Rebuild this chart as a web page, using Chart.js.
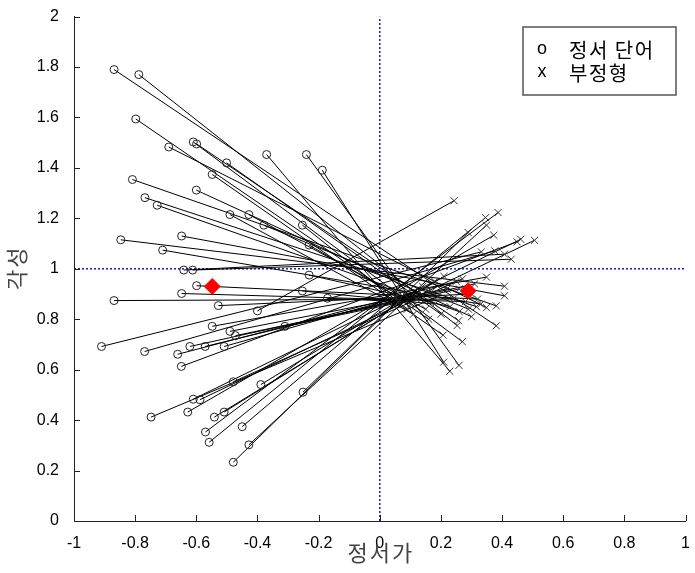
<!DOCTYPE html>
<html>
<head>
<meta charset="utf-8">
<script src="https://cdn.jsdelivr.net/npm/chart.js@4.4.0/dist/chart.umd.min.js"></script>
<style>
  html, body { margin: 0; padding: 0; background: #fff; }
</style>
</head>
<body>
<canvas id="chart" width="695" height="573"></canvas>
<script>
// 정서 단어 (circles) -> 부정형 (crosses), pair i joins wordX/wordY[i] to negX/negY[i]
const wordX = [-0.869,-0.788,-0.798,-0.610,-0.599,-0.690,-0.370,-0.240,-0.501,-0.188,
               -0.548,-0.809,-0.600,-0.768,-0.728,-0.490,-0.428,-0.379,-0.253,-0.648,
               -0.847,-0.231,-0.710,-0.641,-0.612,-0.231,-0.599,-0.253,-0.648,-0.171,
               -0.869,-0.528,-0.400,-0.548,-0.310,-0.490,-0.472,-0.910,-0.621,-0.571,
               -0.509,-0.769,-0.661,-0.649,-0.479,-0.389,-0.610,-0.588,-0.251,-0.628,
               -0.509,-0.748,-0.541,-0.450,-0.570,-0.558,-0.428,-0.479];
const wordY = [1.790,1.770,1.594,1.503,1.495,1.483,1.453,1.453,1.420,1.391,
               1.374,1.354,1.312,1.282,1.252,1.215,1.215,1.173,1.173,1.130,
               1.115,1.094,1.074,0.995,0.995,0.975,0.933,0.912,0.902,0.883,
               0.874,0.854,0.833,0.772,0.772,0.752,0.735,0.692,0.692,0.692,
               0.692,0.672,0.661,0.613,0.552,0.541,0.483,0.481,0.511,0.432,
               0.432,0.412,0.412,0.374,0.353,0.312,0.302,0.233];
const negX = [0.381,0.253,0.160,0.270,0.258,0.349,0.229,0.259,0.200,0.209,
              0.207,0.381,0.300,0.316,0.260,0.110,0.150,0.290,0.090,0.408,
              0.408,0.100,0.330,0.408,0.430,0.230,0.320,0.180,0.280,0.060,
              0.240,0.300,0.243,0.349,0.120,0.220,0.260,0.332,0.310,0.170,
              0.130,0.376,0.250,0.449,0.270,0.140,0.461,0.506,0.080,0.373,
              0.180,0.190,0.210,0.050,0.387,0.346,0.349,0.289];
const negY = [0.774,0.775,0.800,0.711,0.794,0.846,0.594,0.617,0.820,0.630,
              0.737,0.853,0.810,0.850,0.830,0.820,0.840,0.840,0.840,0.893,
              0.931,0.860,0.860,1.058,1.038,0.850,0.880,0.860,0.870,0.870,
              0.880,0.900,1.270,0.967,0.880,0.920,0.920,1.067,0.940,0.910,
              0.910,1.071,0.950,1.107,0.960,0.930,1.117,1.113,0.900,1.133,
              0.950,0.890,0.970,0.890,1.223,1.203,1.173,1.144];

// group means (red diamonds)
const meanX = [-0.548, 0.289];
const meanY = [0.930, 0.913];

const legendLabels = ['정서 단어', '부정형'];
const xTitle = '정서가';
const yTitle = '각성';

const segments = [];
wordX.forEach((x, i) => {
  segments.push({x: x, y: wordY[i]}, {x: negX[i], y: negY[i]}, {x: null, y: null});
});

const toPts = (xs, ys) => xs.map((x, i) => ({x: x, y: ys[i]}));

const decor = {
  id: 'decor',
  afterDraw(chart) {
    const ctx = chart.ctx;
    const {left, right, top, bottom} = chart.chartArea;
    const sx = chart.scales.x, sy = chart.scales.y;
    ctx.save();
    // inward tick marks
    ctx.strokeStyle = '#222';
    ctx.lineWidth = 1;
    ctx.beginPath();
    sx.ticks.forEach(t => {
      const px = Math.round(sx.getPixelForValue(t.value)) + 0.5;
      ctx.moveTo(px, bottom); ctx.lineTo(px, bottom - 6);
    });
    sy.ticks.forEach(t => {
      const py = Math.round(sy.getPixelForValue(t.value)) + 0.5;
      ctx.moveTo(left, py); ctx.lineTo(left + 6, py);
    });
    ctx.stroke();

    // axis titles
    ctx.fillStyle = '#444';
    ctx.font = '22px "Noto Sans CJK KR"';
    ctx.letterSpacing = '2px';
    ctx.textAlign = 'center';
    ctx.textBaseline = 'middle';
    ctx.fillText(xTitle, (left + right) / 2 + 1, bottom + 32);
    ctx.save();
    ctx.translate(17, (top + bottom) / 2);
    ctx.rotate(-Math.PI / 2);
    ctx.fillText(yTitle, 1, 0);
    ctx.restore();

    // legend box
    ctx.fillStyle = '#fff';
    ctx.fillRect(523, 27, 153, 68);
    ctx.strokeStyle = '#555';
    ctx.lineWidth = 1.5;
    ctx.strokeRect(523, 27, 153, 68);
    ctx.fillStyle = '#000';
    ctx.letterSpacing = '0px';
    ctx.textAlign = 'center';
    ctx.font = '18px "Liberation Sans"';
    ctx.fillText('o', 542, 49);
    ctx.fillText('x', 542, 72);
    ctx.textAlign = 'left';
    ctx.font = '20px "Noto Sans CJK KR"';
    ctx.letterSpacing = '1.5px';
    ctx.fillText(legendLabels[0], 569, 50);
    ctx.fillText(legendLabels[1], 569, 73);
    ctx.restore();
  }
};

new Chart(document.getElementById('chart'), {
  type: 'scatter',
  data: {
    datasets: [
      {
        data: toPts(meanX, meanY),
        pointStyle: 'rectRot', pointRadius: 8,
        backgroundColor: '#ff0000', borderColor: '#ff0000', borderWidth: 1,
        order: 0
      },
      {
        data: toPts(wordX, wordY),
        pointStyle: 'circle', pointRadius: 4,
        backgroundColor: 'rgba(0,0,0,0)', borderColor: '#222', borderWidth: 1,
        order: 1
      },
      {
        data: toPts(negX, negY),
        pointStyle: 'crossRot', pointRadius: 5,
        borderColor: '#333', borderWidth: 1,
        order: 2
      },
      {
        data: segments,
        showLine: true, spanGaps: false, pointRadius: 0,
        borderColor: '#000', borderWidth: 1,
        order: 3
      },
      {
        data: [{x: -1, y: 1}, {x: 1, y: 1}],
        showLine: true, pointRadius: 0,
        borderColor: '#1c1ca8', borderWidth: 1.5, borderDash: [2, 2],
        order: 4
      },
      {
        data: [{x: 0, y: 0}, {x: 0, y: 2}],
        showLine: true, pointRadius: 0,
        borderColor: '#1c1ca8', borderWidth: 1.5, borderDash: [2, 2],
        order: 4
      }
    ]
  },
  options: {
    responsive: false,
    animation: false,
    layout: { padding: { top: 15, right: 9, left: 0, bottom: 0 } },
    plugins: { legend: { display: false }, tooltip: { enabled: false } },
    scales: {
      x: {
        type: 'linear', min: -1, max: 1,
        grid: { display: false },
        border: { display: true, color: '#222', width: 1 },
        ticks: {
          stepSize: 0.2, padding: 5, color: '#000',
          font: { family: 'Liberation Sans', size: 16 },
          callback: v => String(+v.toFixed(1))
        },
        afterFit: s => { s.height = 52; }
      },
      y: {
        type: 'linear', min: 0, max: 2,
        grid: { display: false },
        border: { display: true, color: '#222', width: 1 },
        ticks: {
          stepSize: 0.2, padding: 7, color: '#000',
          font: { family: 'Liberation Sans', size: 16 },
          callback: v => String(+v.toFixed(1))
        },
        afterFit: s => { s.width = 74; }
      }
    }
  },
  plugins: [decor]
});
</script>
</body>
</html>
